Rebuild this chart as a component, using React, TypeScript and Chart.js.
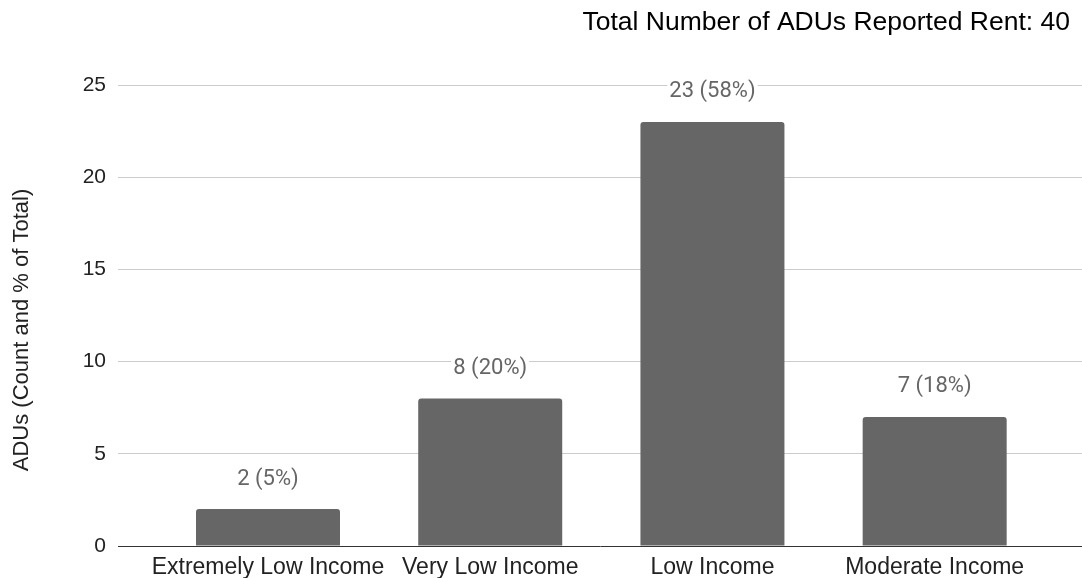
import { useEffect, useRef } from "react";
import { Chart, registerables } from "chart.js";

Chart.register(...registerables);

// Income bands and the number of ADUs that reported rent in each
const categories = ["Extremely Low Income", "Very Low Income", "Low Income", "Moderate Income"];
const rentCounts = [2, 8, 23, 7];
const yTicks = [0, 5, 10, 15, 20, 25];
const chartTitle = "Total Number of ADUs Reported Rent";
const yAxisTitle = "ADUs (Count and % of Total)";

const total = rentCounts.reduce((a, b) => a + b, 0);
const percentOf = (v: number) => Math.round((v * 100) / total);

const SANS = "'Liberation Sans', Arial, sans-serif";

// Value labels above the bars, plus the header and the rotated axis caption
const annotations = {
  id: "annotations",
  afterDatasetsDraw(chart: any) {
    const ctx = chart.ctx as CanvasRenderingContext2D;
    const meta = chart.getDatasetMeta(0);
    ctx.save();
    ctx.font = "22px Roboto, sans-serif";
    ctx.textAlign = "center";
    ctx.textBaseline = "middle";
    meta.data.forEach((bar: any, i: number) => {
      const v = rentCounts[i];
      const text = `${v} (${percentOf(v)}%)`;
      const w = ctx.measureText(text).width;
      const y = bar.y - 30;
      ctx.fillStyle = "#ffffff";
      ctx.fillRect(bar.x - w / 2 - 2, y - 12, w + 4, 24);
      ctx.fillStyle = "#666666";
      ctx.fillText(text, bar.x, y);
    });

    ctx.font = `26.5px ${SANS}`;
    ctx.textAlign = "right";
    ctx.fillStyle = "#000000";
    ctx.fillText(`${chartTitle}: ${total}`, chart.width - 12, 23);

    ctx.translate(22, 330);
    ctx.rotate(-Math.PI / 2);
    ctx.font = `22px ${SANS}`;
    ctx.textAlign = "center";
    ctx.fillStyle = "#222222";
    ctx.fillText(yAxisTitle, 0, 0);
    ctx.restore();
  },
};

export default function App() {
  const canvasRef = useRef<HTMLCanvasElement>(null);

  useEffect(() => {
    if (!canvasRef.current) return;
    const chart = new Chart(canvasRef.current, {
      type: "bar",
      data: {
        datasets: [
          {
            data: rentCounts.map((v, i) => ({ x: i, y: v })),
            backgroundColor: "#666666",
            borderRadius: 3,
            borderSkipped: "start",
            categoryPercentage: 1,
            barPercentage: 0.648,
          },
        ],
      },
      options: {
        animation: false,
        responsive: true,
        maintainAspectRatio: false,
        layout: { padding: { top: 85, left: 0, right: 0, bottom: 0 } },
        plugins: {
          legend: { display: false },
          title: { display: false },
          tooltip: { enabled: false },
        },
        scales: {
          x: {
            type: "linear",
            offset: false,
            min: -0.675,
            max: 3.663,
            grid: { display: false, drawTicks: false },
            border: { display: true, color: "#333333", width: 1 },
            afterFit: (scale: any) => {
              scale.height = 32;
            },
            ticks: {
              stepSize: 1,
              autoSkip: false,
              maxRotation: 0,
              includeBounds: false,
              padding: 8,
              color: "#222222",
              font: { family: SANS, size: 23 },
              callback: (value: any) => (Number.isInteger(value) ? categories[value] ?? "" : ""),
            },
          },
          y: {
            min: yTicks[0],
            max: yTicks[yTicks.length - 1],
            grid: {
              drawTicks: false,
              color: (c: any) => (c.tick && c.tick.value === 0 ? "rgba(0,0,0,0)" : "#cccccc"),
              lineWidth: 1,
            },
            border: { display: false },
            afterFit: (scale: any) => {
              scale.width = 118;
            },
            ticks: {
              stepSize: yTicks[1] - yTicks[0],
              padding: 12,
              color: "#222222",
              font: { family: SANS, size: 21 },
            },
          },
        },
      },
      plugins: [annotations],
    });
    return () => chart.destroy();
  }, []);

  return (
    <div style={{ position: "absolute", left: 0, top: 0, width: 1082, height: 578, background: "#ffffff" }}>
      <canvas ref={canvasRef} />
    </div>
  );
}
